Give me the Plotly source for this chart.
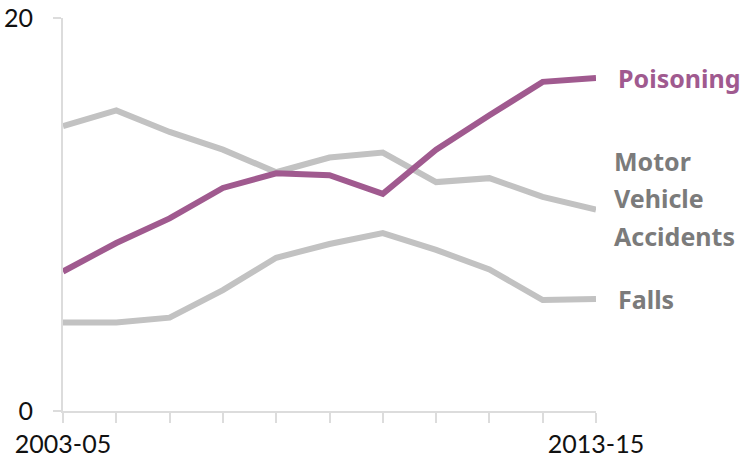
import plotly.graph_objects as go

periods = ["2003-05", "2004-06", "2005-07", "2006-08", "2007-09", "2008-10",
           "2009-11", "2010-12", "2011-13", "2012-14", "2013-15"]
poisoning = [7.1, 8.55, 9.8, 11.35, 12.1, 12.0, 11.05, 13.3, 15.05, 16.75, 16.95]
motor_vehicle = [14.5, 15.3, 14.2, 13.3, 12.15, 12.9, 13.15, 11.65, 11.85, 10.9, 10.25]
falls = [4.5, 4.5, 4.75, 6.15, 7.8, 8.5, 9.05, 8.2, 7.2, 5.65, 5.7]
tick_labels = ["2003-05", "", "", "", "", "", "", "", "", "", "2013-15"]

PURPLE = "#a05a8f"
GRAY = "#c2c2c2"
LABEL_GRAY = "#7b7b7b"
TICK_FONT = "Lato, Noto Sans, sans-serif"
LABEL_FONT = "Noto Sans, Lato, sans-serif"

x = list(range(len(periods)))

fig = go.Figure()
fig.add_trace(go.Scatter(x=x, y=motor_vehicle, mode="lines",
                         line=dict(color=GRAY, width=6), name="Motor Vehicle Accidents",
                         hoverinfo="skip"))
fig.add_trace(go.Scatter(x=x, y=falls, mode="lines",
                         line=dict(color=GRAY, width=6), name="Falls", hoverinfo="skip"))
fig.add_trace(go.Scatter(x=x, y=poisoning, mode="lines",
                         line=dict(color=PURPLE, width=6), name="Poisoning", hoverinfo="skip"))

last = len(periods) - 1
fig.add_annotation(x=last, y=poisoning[-1], text="<b>Poisoning</b>", showarrow=False,
                   xanchor="left", xshift=20, yanchor="middle",
                   font=dict(color=PURPLE, size=25, family=LABEL_FONT))
for line_text, shift in [("Motor", 49), ("Vehicle", 12), ("Accidents", -26)]:
    fig.add_annotation(x=last, y=motor_vehicle[-1], text="<b>" + line_text + "</b>",
                       showarrow=False, xanchor="left", xshift=16, yshift=shift,
                       yanchor="middle", font=dict(color=LABEL_GRAY, size=25, family=LABEL_FONT))
fig.add_annotation(x=last, y=falls[-1], text="<b>Falls</b>", showarrow=False,
                   xanchor="left", xshift=20, yanchor="middle",
                   font=dict(color=LABEL_GRAY, size=25, family=LABEL_FONT))

fig.update_layout(
    width=747, height=466,
    margin=dict(l=63, r=151, t=18, b=55),
    plot_bgcolor="white", paper_bgcolor="white",
    showlegend=False,
    font=dict(family=TICK_FONT, size=25, color="#111111"),
    xaxis=dict(range=[0, last], tickmode="array", tickvals=x, ticktext=tick_labels,
               showgrid=False, zeroline=False, showline=True, linecolor="#dcdcdc", linewidth=2,
               ticks="outside", ticklen=10, tickcolor="#dcdcdc", tickwidth=2,
               ticklabeloverflow="allow",
               tickfont=dict(size=25, color="#111111"), automargin=False, fixedrange=True),
    yaxis=dict(range=[0, 20], tickmode="array", tickvals=[0, 20], ticktext=["0", "20"],
               showgrid=False, zeroline=False, showline=True, linecolor="#dcdcdc", linewidth=2,
               ticks="outside", ticklen=8, tickcolor="#dcdcdc", tickwidth=2,
               ticklabelstandoff=15, ticklabeloverflow="allow",
               tickfont=dict(size=25, color="#111111"), automargin=False, fixedrange=True),
)

fig.write_html("out.html", config={"displayModeBar": False},
               post_script="document.body.style.margin='0px';document.body.style.overflow='hidden';")
